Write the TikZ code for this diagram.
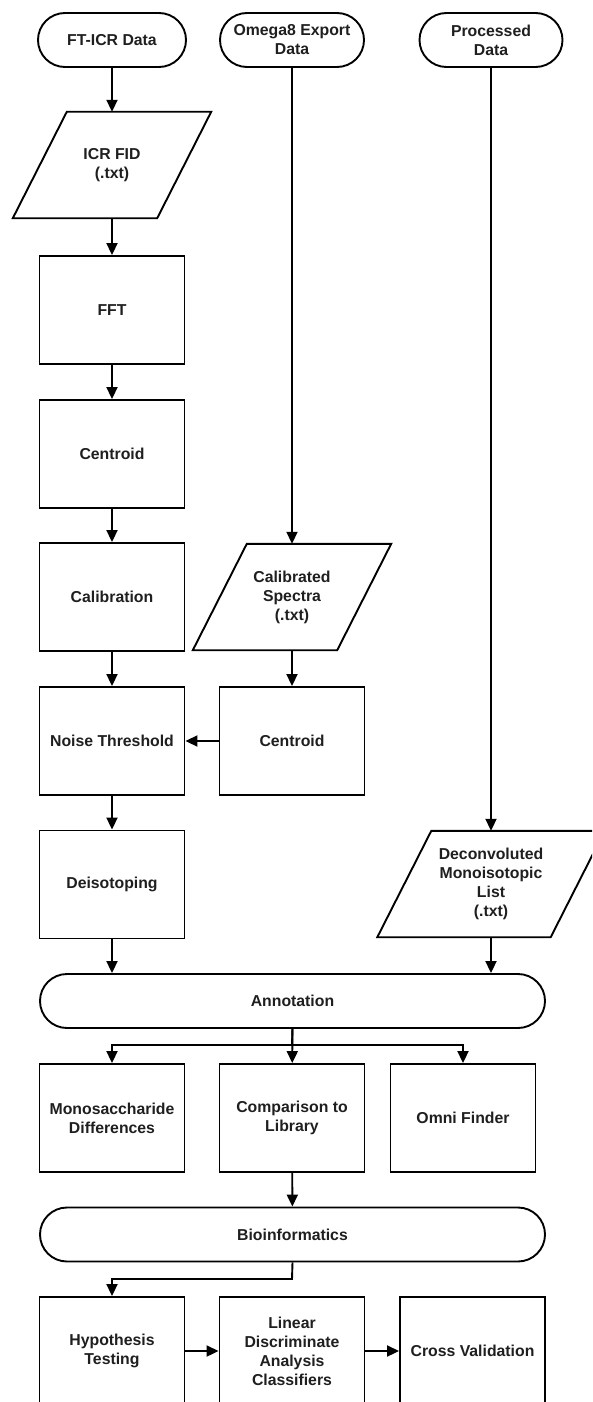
\documentclass[tikz,border=0pt]{standalone}
\usepackage{fontspec}
\setmainfont{Liberation Sans}
\usetikzlibrary{arrows.meta,shapes.misc}
\begin{document}
\begin{tikzpicture}[x=1pt,y=-1pt,
  every node/.style={font=\bfseries\fontsize{15.8}{19}\selectfont, align=center, text=black!88},
  box/.style={draw, line width=1.9pt, rectangle, minimum width=145pt, minimum height=108pt, inner sep=0pt},
  term/.style={draw, line width=1.9pt, rounded rectangle, minimum height=54pt, inner sep=0pt},
  io/.style={rectangle, minimum height=106pt, inner sep=0pt},
  para/.style={line width=1.9pt},
  arr/.style={line width=1.9pt, -{Triangle[length=12pt,width=11pt]}},
  ln/.style={line width=1.9pt}]
\useasboundingbox (0,0) rectangle (592,1402);
\fill[white] (0,0) rectangle (592,1402);
\clip (0,0) rectangle (592,1402);

% terminators
\node[term, minimum width=148pt] (ft) at (112,40) {FT-ICR Data};
\node[term, minimum width=144pt] (om) at (292,40) {Omega8 Export\\Data};
\node[term, minimum width=143pt] (pr) at (491,40) {Processed\\Data};

% left column
\node[io, minimum width=144pt] (icr) at (112,165) {ICR FID\\(.txt)};
\draw[para] ([xshift=-27pt]icr.south west) -- ([xshift=-27pt]icr.south east) -- ([xshift=27pt]icr.north east) -- ([xshift=27pt]icr.north west) -- cycle;
\node[box] (fft) at (112,310) {FFT};
\node[box] (cen1) at (112,454) {Centroid};
\node[box] (calib) at (112,597) {Calibration};
\node[box] (noise) at (112,741) {Noise Threshold};
\node[box] (deiso) at (112,884.5) {Deisotoping};

% middle column
\node[io, minimum width=144pt] (cal) at (292,597) {Calibrated\\Spectra\\(.txt)};
\draw[para] ([xshift=-27pt]cal.south west) -- ([xshift=-27pt]cal.south east) -- ([xshift=27pt]cal.north east) -- ([xshift=27pt]cal.north west) -- cycle;
\node[box] (cen2) at (292,741) {Centroid};

% right column
\node[io, minimum width=173pt] (dec) at (491,884) {Deconvoluted\\Monoisotopic\\List\\(.txt)};
\draw[para] ([xshift=-27pt]dec.south west) -- ([xshift=-27pt]dec.south east) -- ([xshift=27pt]dec.north east) -- ([xshift=27pt]dec.north west) -- cycle;

% annotation
\node[term, minimum width=505pt] (ann) at (292.5,1001) {Annotation};
\node[box] (mono) at (112,1118) {Monosaccharide\\Differences};
\node[box] (comp) at (292,1118) {Comparison to\\Library};
\node[box] (omni) at (463,1118) {Omni Finder};

\node[term, minimum width=505pt] (bio) at (292.5,1234.5) {Bioinformatics};
\node[box] (hyp) at (112,1351) {Hypothesis\\Testing};
\node[box] (lin) at (292,1351) {Linear\\Discriminate\\Analysis\\Classifiers};
\node[box] (cross) at (472.5,1351) {Cross Validation};

% connectors
\draw[arr] (ft) -- (icr);
\draw[arr] (icr) -- (fft);
\draw[arr] (fft) -- (cen1);
\draw[arr] (cen1) -- (calib);
\draw[arr] (calib) -- (noise);
\draw[arr] (noise) -- (deiso);
\draw[arr] (om) -- (cal);
\draw[arr] (cal) -- (cen2);
\draw[arr] (cen2) -- (noise);
\draw[arr] (pr) -- (dec);
\draw[arr] (deiso) -- (deiso |- ann.north);
\draw[arr] (dec) -- (dec |- ann.north);

\coordinate (br) at (292,1045);
\draw[ln] (ann.south) -- (br);
\draw[arr] (br) -| (mono);
\draw[arr] (br) -| (omni);
\draw[arr] (ann) -- (comp);
\draw[arr] (comp) -- (bio);

\coordinate (bend) at (292,1279);
\draw[arr] (bio.south) -- (bend) -| (hyp);
\draw[arr] (hyp) -- (lin);
\draw[arr] (lin) -- (cross);
\end{tikzpicture}
\end{document}
